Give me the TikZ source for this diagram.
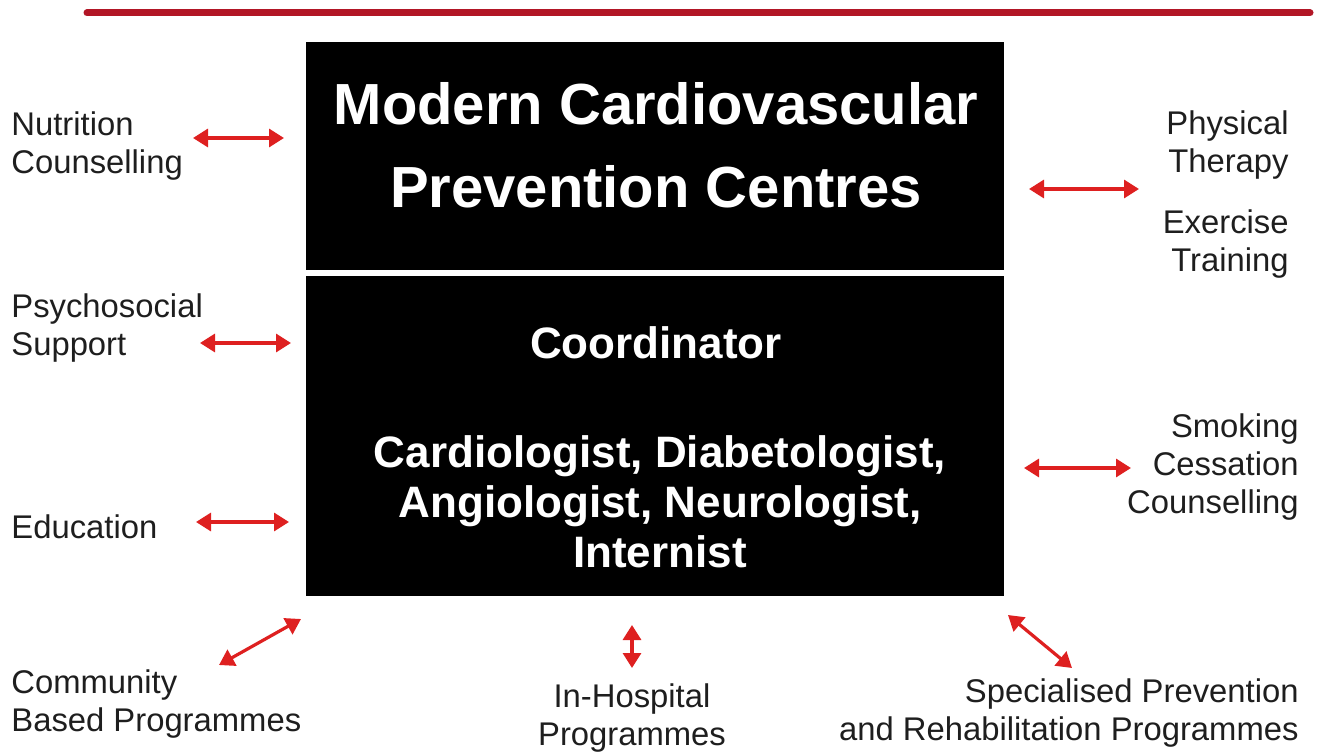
\documentclass[tikz,border=0pt]{standalone}
\usepackage{fontspec}
\setmainfont{Liberation Sans}
\usetikzlibrary{arrows.meta}
\definecolor{rulered}{RGB}{178,22,38}
\definecolor{arrowred}{RGB}{222,32,32}
\definecolor{labelgray}{RGB}{30,30,30}
\tikzset{
  panel/.style={fill=black, draw=none},
  titletext/.style={text=white, font=\fontsize{29pt}{41.5pt}\selectfont\bfseries, align=center, inner sep=0pt},
  bodytext/.style={text=white, font=\fontsize{22pt}{25pt}\selectfont\bfseries, align=center, inner sep=0pt},
  sidelabel/.style={text=labelgray, font=\fontsize{16.4pt}{19pt}\selectfont, inner sep=0pt},
  link/.style={draw=arrowred, line width=1.6pt,
    {Triangle[length=7.5pt,width=9pt]}-{Triangle[length=7.5pt,width=9pt]}}
}
\begin{document}
\begin{tikzpicture}[x=0.5pt, y=-0.5pt]
  \useasboundingbox (0,0) rectangle (1317,754);

  % header rule
  \draw[rulered, line width=3.5pt, line cap=round] (87,13) -- (1310,13);

  % central panels
  \fill[panel] (306,42) rectangle (1004,270);
  \fill[panel] (306,276) rectangle (1004,596);

  \node[titletext] (title) at (656,145) {Modern Cardiovascular\\Prevention Centres};
  \node[bodytext] (coord) at (656,343) {Coordinator};
  \node[bodytext] (spec) at (660,502) {Cardiologist, Diabetologist,\\Angiologist, Neurologist,\\Internist};

  % surrounding services
  \node[sidelabel, anchor=west, align=left] (nutr) at (11,146) {Nutrition\\Counselling};
  \node[sidelabel, anchor=west, align=left] (psych) at (11,328) {Psychosocial\\Support};
  \node[sidelabel, anchor=west, align=left] (edu) at (11,527) {Education};
  \node[sidelabel, anchor=west, align=left] (comm) at (11,704) {Community\\Based Programmes};
  \node[sidelabel, align=center] (hosp) at (632,718) {In-Hospital\\Programmes};
  \node[sidelabel, anchor=east, align=right] (specprog) at (1299,713) {Specialised Prevention\\and Rehabilitation Programmes};
  \node[sidelabel, anchor=east, align=right] (phys) at (1289,145) {Physical\\Therapy};
  \node[sidelabel, anchor=east, align=right] (exer) at (1289,244) {Exercise\\Training};
  \node[sidelabel, anchor=east, align=right] (smok) at (1299,467) {Smoking\\Cessation\\Counselling};

  % arrow end points
  \coordinate (nutrA) at (193,138);  \coordinate (nutrB) at (284,138);
  \coordinate (psychA) at (200,343); \coordinate (psychB) at (291,343);
  \coordinate (eduA) at (196,522);   \coordinate (eduB) at (289,522);
  \coordinate (commA) at (219,665);  \coordinate (commB) at (301,619);
  \coordinate (hospA) at (632,625);  \coordinate (hospB) at (632,668);
  \coordinate (specA) at (1008,615); \coordinate (specB) at (1072,668);
  \coordinate (physA) at (1029,189); \coordinate (physB) at (1139,189);
  \coordinate (smokA) at (1024,468); \coordinate (smokB) at (1131,468);

  \draw[link] (nutrA) -- (nutrB);
  \draw[link] (psychA) -- (psychB);
  \draw[link] (eduA) -- (eduB);
  \draw[link] (commA) -- (commB);
  \draw[link] (hospA) -- (hospB);
  \draw[link] (specA) -- (specB);
  \draw[link] (physA) -- (physB);
  \draw[link] (smokA) -- (smokB);
\end{tikzpicture}
\end{document}
